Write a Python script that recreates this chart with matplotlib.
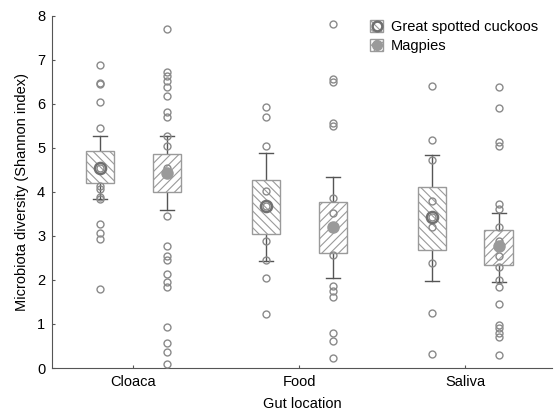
import matplotlib
matplotlib.use("Agg")
import matplotlib.pyplot as plt
from matplotlib.patches import Rectangle, Patch
from matplotlib.lines import Line2D
import numpy as np

plt.rcParams['font.family'] = ['Liberation Sans', 'DejaVu Sans']
plt.rcParams['hatch.color'] = '#9a9a9a'
plt.rcParams['hatch.linewidth'] = 0.8

categories = ["Cloaca", "Food", "Saliva"]
groups = ["Great spotted cuckoos", "Magpies"]

# individual observations
cuckoo_points = [
    [6.88, 6.47, 6.44, 6.05, 5.46, 4.55, 4.14, 4.07, 3.89, 3.84, 3.27, 3.07, 2.92, 1.80],
    [5.92, 5.69, 5.05, 4.01, 3.67, 2.89, 2.45, 2.04, 1.23],
    [6.41, 5.18, 4.73, 3.79, 3.42, 3.21, 2.38, 1.26, 0.31],
]
magpie_points = [
    [7.69, 6.71, 6.64, 6.52, 6.38, 6.17, 5.81, 5.71, 5.27, 5.03, 4.55, 4.42, 3.44, 2.78,
     2.55, 2.45, 2.14, 1.96, 1.85, 0.92, 0.56, 0.36, 0.08],
    [7.81, 6.56, 6.49, 5.56, 5.50, 3.86, 3.52, 3.19, 2.57, 1.86, 1.75, 1.62, 0.80, 0.61, 0.22],
    [6.38, 5.91, 5.14, 5.05, 3.72, 3.61, 3.21, 2.89, 2.76, 2.55, 2.30, 2.00, 1.85, 1.45,
     0.98, 0.90, 0.80, 0.71, 0.30],
]

# summary statistics: mean, box (low/high), whiskers (low/high)
cuckoo_mean = [4.55, 3.67, 3.42]
cuckoo_box_low = [4.19, 3.04, 2.68]
cuckoo_box_high = [4.92, 4.27, 4.12]
cuckoo_whisk_low = [3.83, 2.44, 1.98]
cuckoo_whisk_high = [5.27, 4.88, 4.83]

magpie_mean = [4.42, 3.19, 2.76]
magpie_box_low = [3.99, 2.61, 2.34]
magpie_box_high = [4.86, 3.77, 3.14]
magpie_whisk_low = [3.58, 2.05, 1.96]
magpie_whisk_high = [5.27, 4.33, 3.53]

fig = plt.figure(figsize=(5.55, 4.17), dpi=100)
ax = fig.add_axes([0.094, 0.1175, 0.9, 0.845])

offset = 0.2
bw = 0.17
capw = 0.085
pt_color = '#8a8a8a'
box_edge = '#9a9a9a'
whisk_color = '#555555'

def draw_group(xc, pts, mean, blo, bhi, wlo, whi, hatch, mean_style):
    for i in range(len(categories)):
        x = xc[i]
        # whiskers
        ax.plot([x, x], [bhi[i], whi[i]], color=whisk_color, lw=1.0, zorder=2)
        ax.plot([x, x], [wlo[i], blo[i]], color=whisk_color, lw=1.0, zorder=2)
        ax.plot([x - capw/2, x + capw/2], [whi[i], whi[i]], color=whisk_color, lw=1.0, zorder=2)
        ax.plot([x - capw/2, x + capw/2], [wlo[i], wlo[i]], color=whisk_color, lw=1.0, zorder=2)
        # box
        ax.add_patch(Rectangle((x - bw/2, blo[i]), bw, bhi[i] - blo[i], facecolor='white',
                               edgecolor=box_edge, hatch=hatch, lw=1.0, zorder=3))
        # points
        ax.plot([x]*len(pts[i]), pts[i], 'o', mfc='none', mec=pt_color, ms=5, mew=1.0, zorder=4)
        # mean
        if mean_style == 'open':
            ax.plot([x], [mean[i]], 'o', mfc='none', mec='#707070', ms=8, mew=1.8, zorder=5)
        else:
            ax.plot([x], [mean[i]], 'o', mfc='#9a9a9a', mec='#9a9a9a', ms=8, zorder=5)

xpos = np.arange(len(categories))
draw_group(xpos - offset, cuckoo_points, cuckoo_mean, cuckoo_box_low, cuckoo_box_high,
           cuckoo_whisk_low, cuckoo_whisk_high, '\\\\\\\\', 'open')
draw_group(xpos + offset, magpie_points, magpie_mean, magpie_box_low, magpie_box_high,
           magpie_whisk_low, magpie_whisk_high, '////', 'filled')

ax.set_xlim(-0.49, 2.52)
ax.set_ylim(0, 8)
ax.set_yticks(range(0, 9))
ax.set_xticks(xpos)
ax.set_xticklabels(categories)
ax.spines['top'].set_visible(False)
ax.spines['right'].set_visible(False)
for s in ('left', 'bottom'):
    ax.spines[s].set_color('#555555')
ax.tick_params(labelsize=10.5, direction='in', length=2.5, color='#555555', pad=5)
ax.set_xlabel("Gut location", fontsize=10.5, labelpad=6)
ax.set_ylabel("Microbiota diversity (Shannon index)", fontsize=10.5, labelpad=6)

h1 = (Patch(facecolor='white', edgecolor='#9a9a9a', hatch='\\\\\\\\'),
      Line2D([], [], marker='o', ls='none', mfc='none', mec='#707070', ms=7, mew=1.8))
h2 = (Patch(facecolor='white', edgecolor='#9a9a9a', hatch='////'),
      Line2D([], [], marker='o', ls='none', mfc='#9a9a9a', mec='#9a9a9a', ms=7))
ax.legend([h1, h2], groups, loc='upper left', bbox_to_anchor=(0.628, 1.0), frameon=False,
          fontsize=10.5, handlelength=0.9, handleheight=0.9, handletextpad=0.5,
          labelspacing=0.35, borderaxespad=0.0, borderpad=0.3)

fig.savefig("out.png", dpi=100)
